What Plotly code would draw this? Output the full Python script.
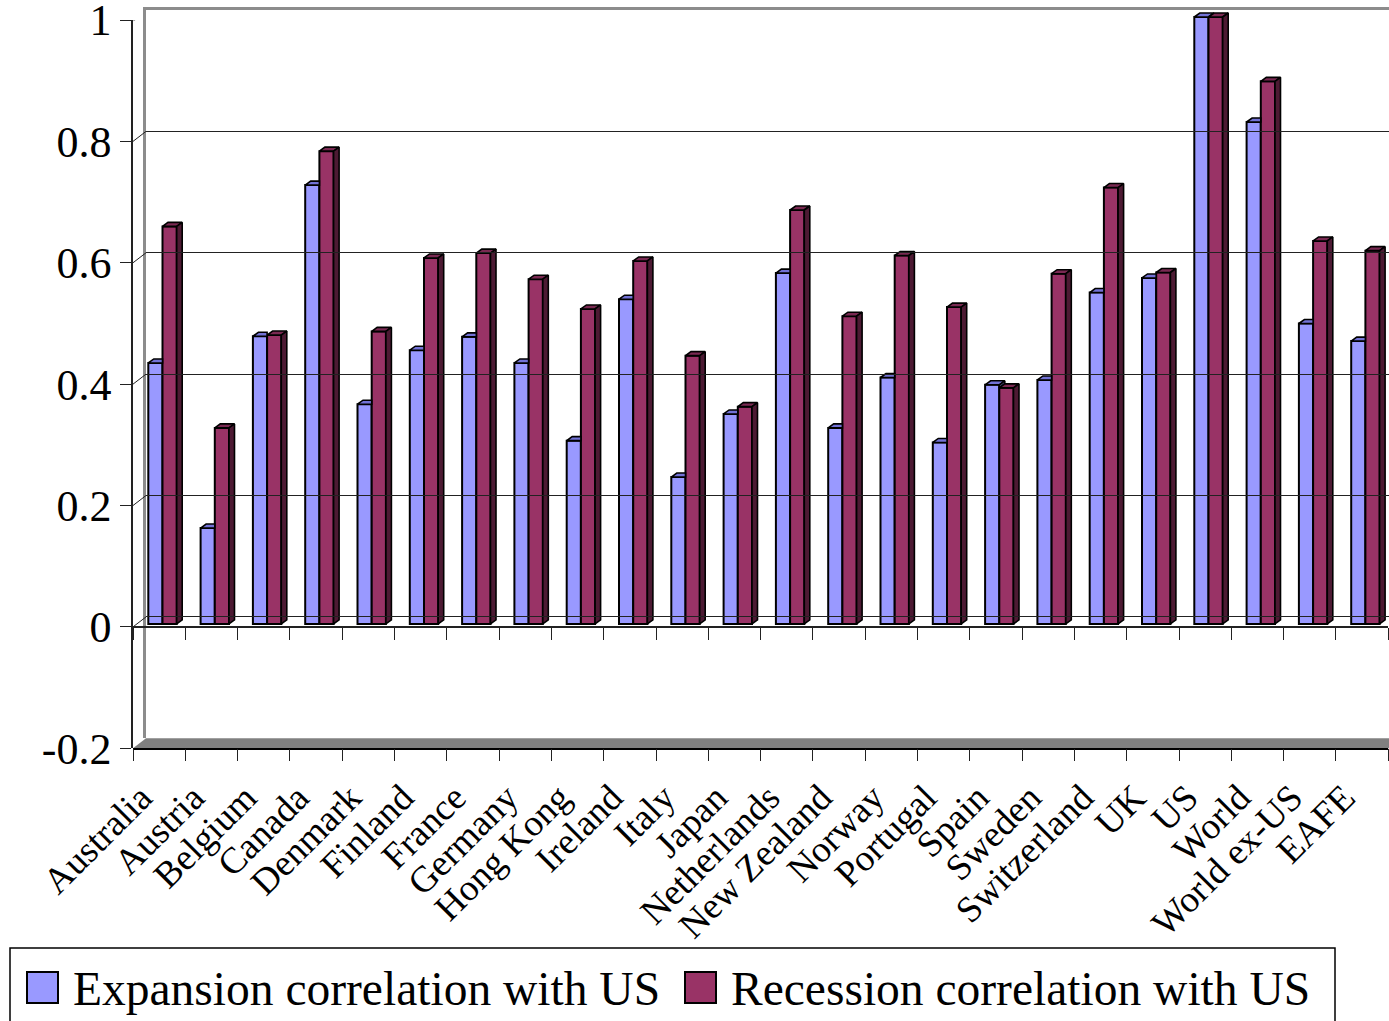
import plotly.graph_objects as go

# ---- data -------------------------------------------------------------
countries = ["Australia", "Austria", "Belgium", "Canada", "Denmark", "Finland",
             "France", "Germany", "Hong Kong", "Ireland", "Italy", "Japan",
             "Netherlands", "New Zealand", "Norway", "Portugal", "Spain",
             "Sweden", "Switzerland", "UK", "US", "World", "World ex-US", "EAFE"]
expansion = [0.430, 0.158, 0.474, 0.723, 0.362, 0.451, 0.473, 0.430, 0.302,
             0.535, 0.242, 0.346, 0.578, 0.323, 0.406, 0.299, 0.394, 0.402,
             0.546, 0.570, 1.000, 0.827, 0.495, 0.466]
recession = [0.655, 0.323, 0.476, 0.779, 0.482, 0.603, 0.611, 0.568, 0.519,
             0.598, 0.442, 0.358, 0.682, 0.507, 0.607, 0.522, 0.389, 0.577,
             0.719, 0.579, 1.000, 0.894, 0.631, 0.615]
y_ticks = [-0.2, 0, 0.2, 0.4, 0.6, 0.8, 1]
y_tick_text = ["-0.2", "0", "0.2", "0.4", "0.6", "0.8", "1"]
series_names = ["Expansion correlation with US", "Recession correlation with US"]

# ---- geometry of the pseudo 3-D box (pixels) ----------------------------
W, H = 1389, 1021
FX0, FX1 = 133.0, 1388.2      # front plane, left/right
FY1, FY0 = 20.0, 748.3        # front plane rows of y = 1 and y = -0.2
WALL_DX, WALL_DY = 13.0, 10.0  # depth of the box
BAR_LIFT = 3.0                # bars sit slightly behind the front plane
BAR_DX, BAR_DY = 5.5, 4.0     # depth of each column
YMIN, YMAX = -0.2, 1.0
BAR_HEADROOM = 0.025          # room above 1.0 for the column tops
n = len(countries)
px_per_cat = (FX1 - FX0) / n
px_per_val = (FY0 - FY1) / (YMAX - YMIN)
ZERO_ROW = FY0 - (0 - YMIN) * px_per_val
LABEL_SHIFT = -18.0 / px_per_cat   # category labels sit a little left of centre

BAR_W = 14.2 / px_per_cat
OFF_EXP = -10.85 / px_per_cat
OFF_REC = OFF_EXP + BAR_W
ddx = BAR_DX / px_per_cat
ddy = BAR_DY / px_per_val

BLUE, BLUE_TOP, BLUE_SIDE = "#9999FF", "#7272D6", "#4C4C80"
RED, RED_TOP, RED_SIDE = "#993366", "#7A2952", "#4D1A33"
FONT = "Liberation Serif"


def px(x):
    return x / W


def py(y):
    return 1 - y / H


# ---- column faces ---------------------------------------------------------
def faces(values, offset, clip_right=None, clip_side=None):
    tx, ty, sx, sy = [], [], [], []
    for i, v in enumerate(values):
        xl = i + offset
        xr = xl + BAR_W
        right = xr + ddx
        top_r = v + ddy
        # top face (cut at the right edge when the neighbouring column hides it)
        if clip_right is not None and v < clip_right[i]:
            tx += [xl, xl + ddx, xr, xr, xl, None]
            ty += [v, v + ddy, v + ddy, v, v, None]
        else:
            tx += [xl, xl + ddx, right, xr, xl, None]
            ty += [v, top_r, top_r, v, v, None]
        # right side face
        lo = 0.0
        if clip_side is not None:
            if v <= clip_side[i]:
                continue
            lo = clip_side[i]
        sx += [xr, xr, right, right, xr, None]
        sy += [lo, v, top_r, lo + ddy, lo, None]
    return tx, ty, sx, sy


etx, ety, esx, esy = faces(expansion, OFF_EXP, clip_right=recession, clip_side=recession)
rtx, rty, rsx, rsy = faces(recession, OFF_REC)

xs = list(range(n))
fig = go.Figure()
fig.add_trace(go.Bar(x=xs, y=expansion, name=series_names[0], xaxis="x", yaxis="y2",
                     width=BAR_W, offset=OFF_EXP,
                     marker=dict(color=BLUE, line=dict(color="black", width=2))))
fig.add_trace(go.Bar(x=xs, y=recession, name=series_names[1], xaxis="x", yaxis="y2",
                     width=BAR_W, offset=OFF_REC,
                     marker=dict(color=RED, line=dict(color="black", width=2))))


def poly(x, y, color):
    return go.Scatter(x=x, y=y, xaxis="x", yaxis="y2", mode="lines", fill="toself",
                      fillcolor=color, line=dict(color="black", width=1.6),
                      hoverinfo="skip", showlegend=False)


fig.add_trace(poly(etx, ety, BLUE_TOP))
fig.add_trace(poly(esx, esy, BLUE_SIDE))
fig.add_trace(poly(rtx, rty, RED_TOP))
fig.add_trace(poly(rsx, rsy, RED_SIDE))

# helper traces so the extra axes get drawn
fig.add_trace(go.Scatter(x=[], y=[], xaxis="x3", yaxis="y3", showlegend=False))
fig.add_trace(go.Scatter(x=[], y=[], xaxis="x4", yaxis="y", showlegend=False))
fig.add_trace(go.Scatter(x=[], y=[], xaxis="x5", yaxis="y", showlegend=False))

xrange_ = [-0.5, n - 0.5]
bounds = [i - 0.5 for i in range(n + 1)]

shapes = []
# floor of the box
shapes.append(dict(
    type="path", xref="paper", yref="paper", layer="below",
    path=(f"M {px(FX0)},{py(FY0)} L 1,{py(FY0)} L 1,{py(FY0 - WALL_DY)} "
          f"L {px(FX0 + WALL_DX)},{py(FY0 - WALL_DY)} Z"),
    fillcolor="#808080", line=dict(width=0)))
# side-wall grid lines joining the front axis to the back wall
for v in y_ticks[1:]:
    top = v == YMAX
    shapes.append(dict(
        type="line", xref="x", yref="y", layer="above",
        x0=-0.5, y0=v, x1=-0.5 + WALL_DX / px_per_cat, y1=v + WALL_DY / px_per_val,
        line=dict(color="#8C8C8C" if top else "#222222", width=3 if top else 1)))

# legend box, drawn by hand
LEG_Y0, LEG_Y1 = 948, 1030
shapes.append(dict(type="rect", xref="paper", yref="paper", layer="above",
                   x0=px(10), x1=px(1335), y0=py(LEG_Y1), y1=py(LEG_Y0),
                   line=dict(color="black", width=1.5), fillcolor="rgba(0,0,0,0)"))
for x0, col in [(27, BLUE), (685, RED)]:
    shapes.append(dict(type="rect", xref="paper", yref="paper", layer="above",
                       x0=px(x0), x1=px(x0 + 31), y0=py(1003), y1=py(972),
                       line=dict(color="black", width=2), fillcolor=col))

annotations = []
for xt, txt in [(71, series_names[0]), (729, series_names[1])]:
    annotations.append(dict(xref="paper", yref="paper", x=px(xt), y=py(989),
                            xanchor="left", yanchor="middle", showarrow=False,
                            text=txt, font=dict(family=FONT, size=47.5, color="black")))

fig.update_layout(
    template="none",
    width=W, height=H,
    margin=dict(l=0, r=0, t=0, b=0, autoexpand=False),
    paper_bgcolor="white",
    plot_bgcolor="rgba(0,0,0,0)",
    barmode="overlay",
    showlegend=False,
    shapes=shapes,
    annotations=annotations,
    xaxis=dict(domain=[px(FX0), px(FX1)], range=xrange_, anchor="y", automargin=False,
               tickvals=[x + LABEL_SHIFT for x in xs], ticktext=countries, ticks="",
               tickangle=-45, ticklabelstandoff=11, ticklabeloverflow="allow",
               tickfont=dict(family=FONT, size=37, color="black"),
               showline=True, linecolor="black", linewidth=1.5,
               showgrid=False, zeroline=False),
    xaxis4=dict(overlaying="x", anchor="y", range=xrange_, side="bottom", automargin=False,
                tickvals=bounds, ticks="outside", ticklen=12, tickwidth=1.2,
                tickcolor="#222222", showticklabels=False, showline=False,
                showgrid=False, zeroline=False),
    xaxis5=dict(overlaying="x", anchor="free", position=py(ZERO_ROW),
                range=xrange_, side="bottom", automargin=False,
                tickvals=bounds, ticks="outside", ticklen=12, tickwidth=1.2,
                tickcolor="#222222", showticklabels=False, showline=True,
                linecolor="#222222", linewidth=1.5, showgrid=False, zeroline=False),
    yaxis=dict(domain=[py(FY0), py(FY1)], range=[YMIN, YMAX], anchor="x", automargin=False,
               tickvals=y_ticks, ticktext=y_tick_text, ticks="outside", ticklen=11,
               tickwidth=1.2, tickcolor="#222222", ticklabeloverflow="allow",
               tickfont=dict(family=FONT, size=44, color="black"),
               showline=True, linecolor="#222222", linewidth=1.5,
               showgrid=False, zeroline=False),
    yaxis2=dict(domain=[py(FY0 - BAR_LIFT),
                        py(FY1 - BAR_LIFT - BAR_HEADROOM * px_per_val)],
                range=[YMIN, YMAX + BAR_HEADROOM],
                anchor="x", visible=False, automargin=False),
    xaxis3=dict(domain=[px(FX0 + WALL_DX), 1], range=[0, 1], anchor="y3", side="top",
                automargin=False, showline=True, linecolor="#8C8C8C", linewidth=3,
                showgrid=False, zeroline=False, ticks="", showticklabels=False),
    yaxis3=dict(domain=[py(FY0 - WALL_DY), py(FY1 - WALL_DY)], range=[YMIN, YMAX],
                anchor="x3", automargin=False, tickvals=[0, 0.2, 0.4, 0.6, 0.8], ticks="",
                showticklabels=False, showgrid=True, gridcolor="#222222", gridwidth=1,
                showline=True, linecolor="#8C8C8C", linewidth=3, zeroline=False),
)

fig.write_html("out.html")
